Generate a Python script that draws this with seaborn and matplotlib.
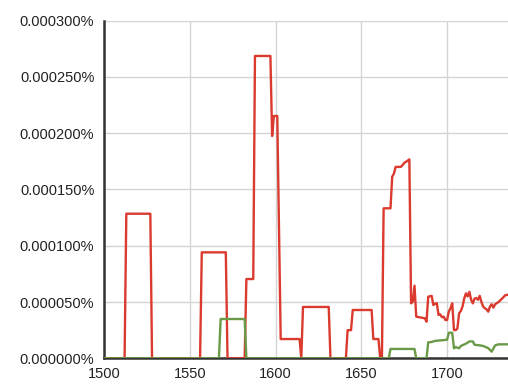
import matplotlib
matplotlib.use("Agg")
import matplotlib.pyplot as plt
import matplotlib.ticker as mticker
import numpy as np
import pandas as pd
import seaborn as sns

# ---- data (values in percent) ----
red_years = [1500, 1512, 1513, 1527, 1528, 1556, 1557, 1571, 1572, 1582, 1583, 1587, 1588,
             1597, 1598, 1599, 1601, 1603, 1614, 1615, 1616, 1631, 1632, 1641, 1642, 1644,
             1645, 1656, 1657, 1660, 1661, 1662, 1663, 1667, 1668, 1669, 1670, 1673, 1674,
             1675, 1677, 1678, 1679, 1680, 1681, 1682, 1687, 1688, 1689, 1691, 1692, 1693,
             1694, 1695, 1696, 1697, 1698, 1699, 1700, 1701, 1702, 1703, 1704, 1705, 1706,
             1707, 1708, 1709, 1710, 1711, 1712, 1713, 1714, 1715, 1716, 1717, 1718, 1719,
             1720, 1721, 1722, 1723, 1724, 1725, 1726, 1727, 1728, 1729, 1730, 1731, 1732,
             1733, 1734, 1735, 1736]
red_values = [0, 0, 128.4, 128.4, 0, 0, 94.1, 94.1, 0, 0, 70.4, 70.4, 268.5,
              268.5, 197.4, 215.2, 215.2, 17.1, 17.1, 0, 45.6, 45.6, 0, 0, 25.0, 25.0,
              42.9, 42.9, 17.1, 17.1, 0, 0, 133.2, 133.2, 161.3, 164.0, 170.0, 170.0, 171.5,
              173.5, 175.5, 176.7, 48.8, 50.3, 64.5, 37.0, 35.5, 32.5, 54.7, 55.5, 47.3, 48.5,
              49.0, 38.5, 39.0, 36.5, 37.0, 34.0, 34.0, 41.5, 44.5, 48.8, 25.1, 25.0, 26.5,
              40.0, 42.0, 46.0, 53.3, 57.7, 55.0, 59.0, 52.0, 48.8, 53.0, 53.5, 52.0, 55.5,
              50.0, 46.0, 44.4, 43.5, 41.4, 46.0, 48.0, 45.0, 48.0, 49.0, 50.0, 51.5, 53.0,
              54.5, 56.2, 56.2, 57.0]
green_years = [1500, 1567, 1568, 1582, 1583, 1666, 1667, 1681, 1682, 1688, 1689, 1691, 1693,
               1697, 1700, 1701, 1703, 1704, 1705, 1707, 1708, 1711, 1713, 1715, 1716, 1719,
               1721, 1724, 1726, 1728, 1730, 1736]
green_values = [0, 0, 34.9, 34.9, 0, 0, 8.3, 8.3, 0, 0, 14.2, 14.5, 15.5,
                16.0, 16.5, 22.7, 22.7, 8.9, 10.0, 8.9, 11.0, 13.0, 15.0, 15.0, 12.0, 11.5,
                11.0, 9.0, 5.9, 11.5, 12.4, 12.4]
y_ticks = [0, 0.00005, 0.0001, 0.00015, 0.0002, 0.00025, 0.0003]
x_ticks = [1500, 1550, 1600, 1650, 1700]

red_df = pd.DataFrame({"year": red_years, "value": np.array(red_values) * 1e-6})
green_df = pd.DataFrame({"year": green_years, "value": np.array(green_values) * 1e-6})

sns.set_style("white")
plt.rcParams["font.family"] = ["Liberation Sans", "DejaVu Sans"]

fig = plt.figure(figsize=(5.08, 3.88), dpi=100)
ax = fig.add_axes([104 / 508, 29.7 / 388, 1 - 104 / 508, (358.3 - 20.5) / 388])

sns.lineplot(data=red_df, x="year", y="value", ax=ax, color="#db3a2f", lw=1.7,
             estimator=None, zorder=3)
sns.lineplot(data=green_df, x="year", y="value", ax=ax, color="#6a9a47", lw=1.7,
             estimator=None, zorder=4)

ax.set_xlim(1500, 1735.5)
ax.set_ylim(0, 0.0003)
ax.set_xticks(x_ticks)
ax.set_yticks(y_ticks)
ax.yaxis.set_major_formatter(mticker.FuncFormatter(lambda v, p: f"{v:.6f}%"))
ax.set_xlabel("")
ax.set_ylabel("")
ax.grid(True, color="#d4d4d4", lw=1)
ax.set_axisbelow(True)
for s in ["top", "right"]:
    ax.spines[s].set_visible(False)
for s in ["left", "bottom"]:
    ax.spines[s].set_color("#333333")
    ax.spines[s].set_linewidth(1.8)
    ax.spines[s].set_zorder(2)
ax.tick_params(axis="both", colors="#333333", labelcolor="#222222", labelsize=10.5,
               length=4, width=1.5, direction="out")
ax.tick_params(axis="y", pad=3)
ax.tick_params(axis="x", pad=2)

fig.savefig("out.png", dpi=100)
